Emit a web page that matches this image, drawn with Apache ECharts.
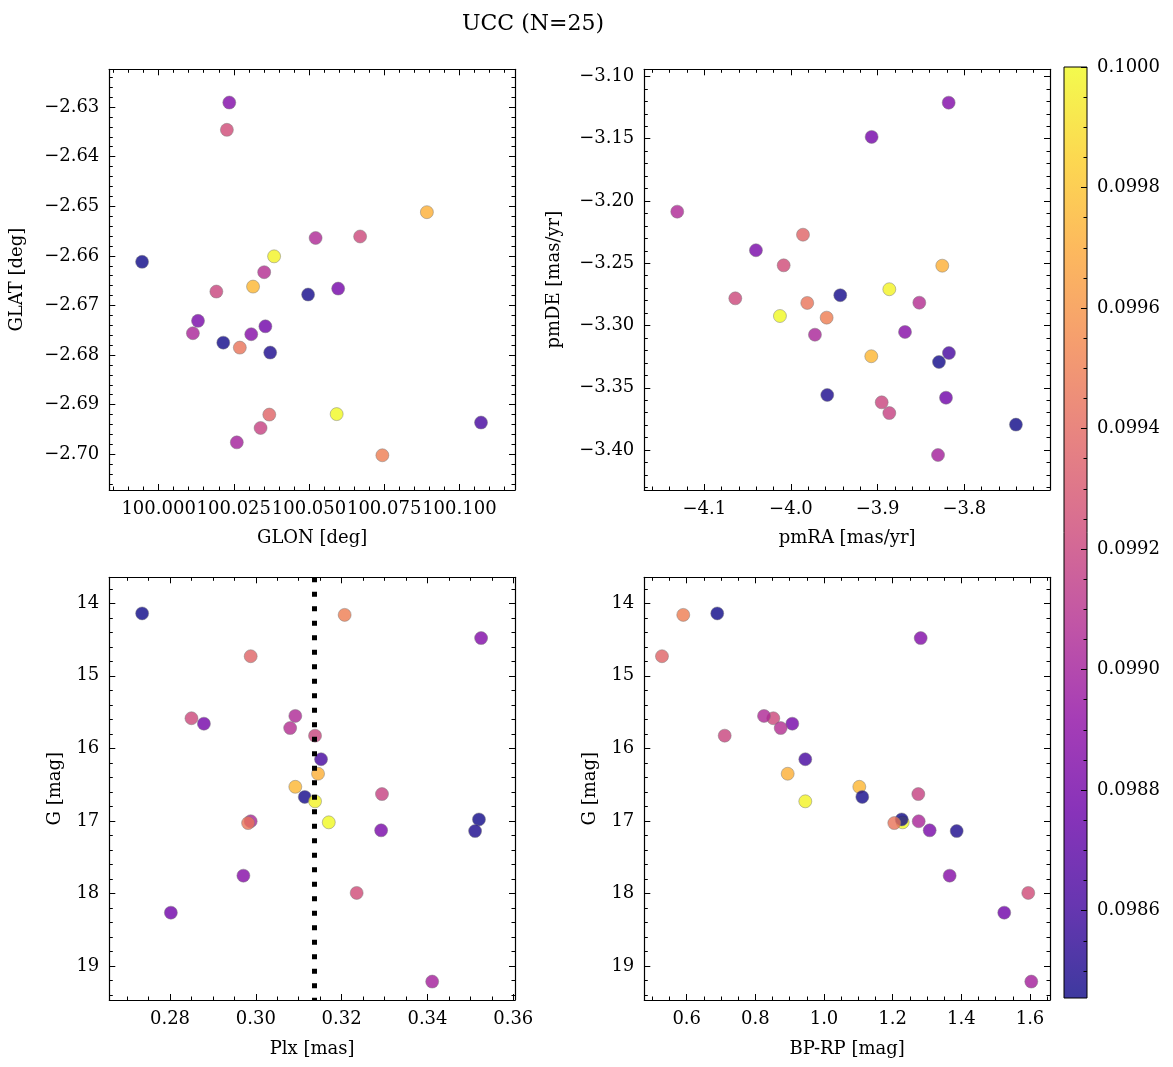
<!DOCTYPE html>
<html><head><meta charset="utf-8">
<script src="https://cdn.jsdelivr.net/npm/echarts@6/dist/echarts.min.js"></script>
<style>html,body{margin:0;padding:0;background:#fff}#c{width:1173px;height:1067px}</style>
</head><body><div id="c"></div>
<script>
// ---- data (25 stars) ----
const glon = [99.9945, 100.0744, 100.0235, 100.0368, 100.0670, 100.0597, 100.0522, 100.0351, 100.0192, 100.1072, 100.0892, 100.0314, 100.0497, 100.0384, 100.0339, 100.0592, 100.0114, 100.0131, 100.0215, 100.0371, 100.0308, 100.0227, 100.0355, 100.0260, 100.0270];
const glat = [-2.6612, -2.7002, -2.6291, -2.6920, -2.6561, -2.6666, -2.6564, -2.6633, -2.6672, -2.6936, -2.6512, -2.6662, -2.6678, -2.6601, -2.6947, -2.6919, -2.6756, -2.6731, -2.6775, -2.6795, -2.6758, -2.6346, -2.6742, -2.6976, -2.6785];
const pmra = [-3.7404, -3.9588, -3.8180, -3.9861, -4.0642, -3.9069, -4.1312, -3.8519, -3.8953, -3.8177, -3.8254, -3.9073, -3.9431, -3.8865, -3.8865, -4.0127, -3.9723, -4.0404, -3.8292, -3.9581, -3.8684, -4.0084, -3.8211, -3.8303, -3.9812];
const pmde = [-3.3796, -3.2937, -3.1211, -3.2271, -3.2782, -3.1486, -3.2086, -3.2817, -3.3617, -3.3221, -3.2520, -3.3247, -3.2757, -3.2709, -3.3703, -3.2924, -3.3074, -3.2396, -3.3293, -3.3558, -3.3052, -3.2517, -3.3580, -3.4040, -3.2819];
const plx  = [0.2735, 0.3207, 0.3525, 0.2988, 0.2850, 0.2879, 0.3092, 0.3080, 0.3138, 0.3152, 0.3145, 0.3092, 0.3114, 0.3138, 0.3294, 0.3170, 0.2988, 0.3292, 0.3520, 0.3511, 0.2971, 0.3235, 0.2802, 0.3411, 0.2982];
const gmag = [14.14, 14.16, 14.48, 14.73, 15.585, 15.66, 15.553, 15.72, 15.825, 16.15, 16.35, 16.53, 16.67, 16.73, 16.63, 17.02, 17.005, 17.13, 16.98, 17.14, 17.755, 17.993, 18.265, 19.215, 17.03];
const bprp = [0.689, 0.590, 1.2816, 0.528, 0.8523, 0.9076, 0.8252, 0.8738, 0.7107, 0.9455, 0.8942, 1.1028, 1.1115, 0.9455, 1.2747, 1.2292, 1.2758, 1.3078, 1.2263, 1.3865, 1.366, 1.595, 1.525, 1.6038, 1.2047];
const prob = [0.098455, 0.09950, 0.09885, 0.09937, 0.09922, 0.09880, 0.09905, 0.09908, 0.09920, 0.09862, 0.09972, 0.09975, 0.09847, 0.09998, 0.09918, 0.10000, 0.09903, 0.09882, 0.09846, 0.09849, 0.09887, 0.09924, 0.09878, 0.09900, 0.09945];
const plxRef = 0.3137;

// ---- tick labels ----
const glonTicks = [100.000, 100.025, 100.050, 100.075, 100.100];
const glatTicks = [-2.70, -2.69, -2.68, -2.67, -2.66, -2.65, -2.64, -2.63];
const pmraTicks = [-4.1, -4.0, -3.9, -3.8];
const pmdeTicks = [-3.40, -3.35, -3.30, -3.25, -3.20, -3.15, -3.10];
const plxTicks  = [0.28, 0.30, 0.32, 0.34, 0.36];
const gTicks    = [14, 15, 16, 17, 18, 19];
const bprpTicks = [0.6, 0.8, 1.0, 1.2, 1.4, 1.6];
const cbTicks   = [0.0986, 0.0988, 0.0990, 0.0992, 0.0994, 0.0996, 0.0998, 0.1000];

// ---- layout ----
const FONT = 'DejaVu Serif';
const MINUS = '\u2212';
const ranges = {
  glon: [99.9836, 100.1185], glat: [-2.7072, -2.6224],
  pmra: [-4.1692, -3.7011], pmde: [-3.4321, -3.0943],
  plx: [0.26585, 0.3604], g: [13.642, 19.469], bprp: [0.4765, 1.6583],
  cb: [0.098455, 0.10000]
};
const grids = [
  {left: 109.3, top: 69.3, width: 405.7, height: 420.7},
  {left: 644.3, top: 69.3, width: 405.7, height: 420.7},
  {left: 109.3, top: 577.3, width: 405.7, height: 422.7},
  {left: 644.3, top: 577.3, width: 405.7, height: 422.7},
  {left: 1064, top: 67, width: 23, height: 931}
];
const plasma = ['#0d0887','#41049d','#6a00a8','#8f0da4','#b12a90','#cc4778','#e16462','#f2844b','#fca636','#fcce25','#f0f921'];

function fmt(d) {
  return v => (v < -1e-12 ? MINUS : '') + Math.abs(v).toFixed(d);
}
function makeMinor(ticks, sub, lo, hi) {
  const step = (ticks[1] - ticks[0]) / sub;
  const out = [];
  for (let k = -200; k <= 400; k++) {
    const v = ticks[0] + k * step;
    if (v < lo - 1e-12 || v > hi + 1e-12) continue;
    if (k % sub === 0) continue;
    out.push(+v.toFixed(10));
  }
  return out;
}
const xAxes = [], yAxes = [];
const lineSt = {color: '#000', width: 1.2};
function addAxes(arr, dim, grid, range, ticks, sub, fmtFn, name, gap, inverse) {
  const [lo, hi] = range;
  const minors = makeMinor(ticks, sub, lo, hi);
  const pos = dim === 'x' ? ['bottom', 'top'] : ['left', 'right'];
  const base = {type: 'value', gridIndex: grid, min: lo, max: hi, inverse: !!inverse,
    splitLine: {show: false}, axisPointer: {show: false}, silent: true};
  const idx = arr.length;
  arr.push(Object.assign({}, base, {
    position: pos[0],
    axisLine: {show: true, onZero: false, lineStyle: lineSt},
    axisTick: {show: true, inside: true, length: 6, customValues: ticks, lineStyle: {color: '#000', width: 1}},
    axisLabel: {show: true, customValues: ticks, formatter: fmtFn, fontFamily: FONT, fontSize: 18, color: '#000', margin: 10},
    name: name, nameLocation: 'middle', nameGap: gap,
    nameTextStyle: {fontFamily: FONT, fontSize: 18, color: '#000'}
  }));
  arr.push(Object.assign({}, base, {
    position: pos[1],
    axisLine: {show: true, onZero: false, lineStyle: lineSt},
    axisTick: {show: true, inside: true, length: 6, customValues: ticks, lineStyle: {color: '#000', width: 1}},
    axisLabel: {show: false}
  }));
  for (const p of pos) {
    arr.push(Object.assign({}, base, {
      position: p,
      axisLine: {show: false, onZero: false},
      axisTick: {show: true, inside: true, length: 3.5, customValues: minors, lineStyle: {color: '#000', width: 1}},
      axisLabel: {show: false}
    }));
  }
  return idx;
}

const x1 = addAxes(xAxes, 'x', 0, ranges.glon, glonTicks, 5, fmt(3), 'GLON [deg]', 39);
const y1 = addAxes(yAxes, 'y', 0, ranges.glat, glatTicks, 5, fmt(2), 'GLAT [deg]', 83);
const x2 = addAxes(xAxes, 'x', 1, ranges.pmra, pmraTicks, 5, fmt(1), 'pmRA [mas/yr]', 39);
const y2 = addAxes(yAxes, 'y', 1, ranges.pmde, pmdeTicks, 5, fmt(2), 'pmDE [mas/yr]', 81);
const x3 = addAxes(xAxes, 'x', 2, ranges.plx, plxTicks, 4, fmt(2), 'Plx [mas]', 40);
const y3 = addAxes(yAxes, 'y', 2, ranges.g, gTicks, 5, fmt(0), 'G [mag]', 45, true);
const x4 = addAxes(xAxes, 'x', 3, ranges.bprp, bprpTicks, 4, fmt(1), 'BP-RP [mag]', 40);
const y4 = addAxes(yAxes, 'y', 3, ranges.g, gTicks, 5, fmt(0), 'G [mag]', 45, true);

// colorbar axes
xAxes.push({type: 'value', gridIndex: 4, min: 0, max: 1, show: false});
const cbMinor = makeMinor(cbTicks, 4, ranges.cb[0], ranges.cb[1]);
yAxes.push({type: 'value', gridIndex: 4, position: 'right', min: ranges.cb[0], max: ranges.cb[1],
  splitLine: {show: false}, silent: true,
  axisLine: {show: false, onZero: false},
  axisTick: {show: true, inside: true, length: 6, customValues: cbTicks, lineStyle: {color: '#000', width: 1}},
  axisLabel: {show: true, customValues: cbTicks, formatter: v => v.toFixed(4), fontFamily: FONT, fontSize: 18, color: '#000', margin: 10, padding: [5, 0, 0, 0]}
});
yAxes.push({type: 'value', gridIndex: 4, position: 'right', min: ranges.cb[0], max: ranges.cb[1],
  splitLine: {show: false}, silent: true,
  axisLine: {show: false, onZero: false},
  axisTick: {show: true, inside: true, length: 3.5, customValues: cbMinor, lineStyle: {color: '#000', width: 1}},
  axisLabel: {show: false}
});

function rgba(hex, a) {
  const n = parseInt(hex.slice(1), 16);
  return 'rgba(' + (n >> 16 & 255) + ',' + (n >> 8 & 255) + ',' + (n & 255) + ',' + a + ')';
}
const pointStyle = {opacity: 0.8, borderColor: '#7a7a7a', borderWidth: 0.6};
function sc(xi, yi, xs, ys, extra) {
  return Object.assign({type: 'scatter', xAxisIndex: xi, yAxisIndex: yi, symbolSize: 13,
    itemStyle: pointStyle, animation: false, silent: true,
    data: xs.map((v, i) => [v, ys[i], prob[i]])}, extra || {});
}

const option = {
  backgroundColor: '#fff',
  animation: false,
  title: {text: 'UCC (N=25)', left: 457, top: 8,
    textStyle: {fontFamily: FONT, fontSize: 22, fontWeight: 'normal', color: '#000'}},
  grid: grids.map(g => Object.assign({outerBoundsMode: 'none', containLabel: false}, g)),
  xAxis: xAxes,
  yAxis: yAxes,
  visualMap: {type: 'continuous', show: false, min: ranges.cb[0], max: ranges.cb[1], dimension: 2,
    seriesIndex: [0, 1, 2, 3], inRange: {color: plasma}},
  graphic: [{type: 'rect', z: -1, silent: true,
    shape: {x: grids[4].left, y: grids[4].top, width: grids[4].width, height: grids[4].height},
    style: {
      fill: new echarts.graphic.LinearGradient(0, 1, 0, 0,
        plasma.map((c, i) => ({offset: i / (plasma.length - 1), color: rgba(c, 0.8)}))),
      stroke: '#000', lineWidth: 1
    }}],
  series: [
    sc(x1, y1, glon, glat),
    sc(x2, y2, pmra, pmde),
    sc(x3, y3, plx, gmag, {markLine: {silent: true, symbol: ['none', 'none'], label: {show: false},
      animation: false, z: 10, precision: 6,
      lineStyle: {color: '#000', width: 5, type: [5, 9.5], cap: 'butt', opacity: 1},
      emphasis: {disabled: true},
      data: [{xAxis: plxRef}]}}),
    sc(x4, y4, bprp, gmag)
  ]
};
const chart = echarts.init(document.getElementById('c'), null, {renderer: 'canvas'});
chart.setOption(option);
</script>
</body></html>
